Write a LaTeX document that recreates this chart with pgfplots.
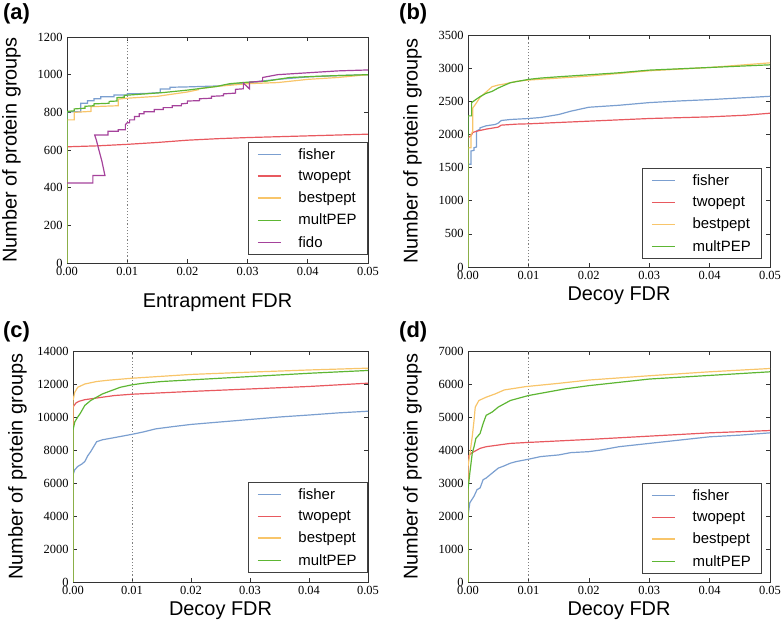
\documentclass[border=0pt]{standalone}
\usepackage{pgfplots}
\pgfplotsset{compat=1.18}
\usepackage{fontspec}
\setmainfont{Liberation Sans}
\newfontfamily\serifnum{Liberation Serif}
\newcommand\tickfont{\serifnum\fontsize{12.5}{14}\selectfont}
\newcommand\labfont{\fontsize{20}{24}\selectfont}
\definecolor{cfisher}{HTML}{7B9FD0}
\definecolor{ctwo}{HTML}{E8595F}
\definecolor{cbest}{HTML}{F8C56A}
\definecolor{cmult}{HTML}{5DB633}
\definecolor{cfido}{HTML}{A5429B}
\pgfplotsset{
  myax/.style={
    scale only axis,
    anchor=south west,
    xmin=0, xmax=0.05,
    xtick={0,0.01,0.02,0.03,0.04,0.05},
    scaled x ticks=false,
    scaled y ticks=false,
    tick align=inside,
    major tick length=4bp,
    axis line style={black!80, line width=0.8bp},
    every tick/.style={black!80, line width=0.6bp},
    xticklabel={\tickfont\pgfmathprintnumber[assume math mode=true, fixed, fixed zerofill, precision=2]{\tick}},
    yticklabel={\tickfont\pgfmathprintnumber[assume math mode=true, fixed, precision=0, 1000 sep={}]{\tick}},
    xticklabel style={yshift=-1bp},
    yticklabel style={xshift=-1bp},
    every axis y label/.style={at={(rel axis cs:0,0.5)}, xshift=-46bp, rotate=90, anchor=south, inner sep=0pt, font=\labfont},
    every axis plot/.append style={line width=1.2bp},
    legend cell align=left,
    legend image code/.code={\draw[line width=1.4bp, ##1] (0bp,0bp) -- (23bp,0bp);},
    legend style={anchor=south east, draw=black!75, line width=0.8bp,
      font=\fontsize{15}{18}\selectfont, inner xsep=9bp, inner ysep=4bp, row sep=6bp,
      /tikz/every odd column/.append style={column sep=15bp}},
  },
  xlab/.style={every axis x label/.style={at={(rel axis cs:0.5,0)}, yshift=-#1, anchor=base, inner sep=0pt, font=\labfont}},
}
\begin{document}
\begin{tikzpicture}
\useasboundingbox (0,0) rectangle (784bp,627bp);
% ---------------- (a)
\node[anchor=north west, inner sep=0pt, font=\bfseries\fontsize{22}{26}\selectfont] at (3bp,624bp) {(a)};
\begin{axis}[myax, xlab=45bp, at={(67bp,364bp)}, width=301bp, height=226bp,
  ymin=0, ymax=1200, ytick={0,200,400,600,800,1000,1200},
  xlabel={Entrapment FDR}, ylabel={Number of protein groups},
  legend style={at={(rel axis cs:1,0.035)}}]
\addplot[gray, dotted, line width=0.8bp, forget plot] coordinates {(0.01,0) (0.01,1200)};
\addplot[color=cfisher] coordinates {(0,0)(0,803)(0.0023,803)(0.0023,848)(0.0034,848)(0.0034,862)(0.0045,862)(0.0045,872)(0.0056,872)(0.0056,883)(0.0078,883)(0.0078,892)(0.0100,892)(0.0100,898)(0.0130,900)(0.0155,905)(0.0155,924)(0.0171,924)(0.0171,933)(0.0200,935)(0.0250,940)(0.0300,958)(0.0350,975)(0.0400,988)(0.0450,995)(0.0500,1000)};
\addlegendentry{fisher}
\addplot[color=ctwo] coordinates {(0,0)(0,617)(0.0050,622)(0.0100,630)(0.0150,640)(0.0200,652)(0.0250,660)(0.0300,666)(0.0400,675)(0.0500,684)};
\addlegendentry{twopept}
\addplot[color=cbest] coordinates {(0,0)(0,760)(0.0012,760)(0.0012,800)(0.0040,805)(0.0040,830)(0.0085,835)(0.0085,870)(0.0100,875)(0.0150,885)(0.0200,908)(0.0218,920)(0.0218,925)(0.0250,938)(0.0300,952)(0.0350,958)(0.0400,975)(0.0450,985)(0.0500,1000)};
\addlegendentry{bestpept}
\addplot[color=cmult] coordinates {(0,0)(0,805)(0.0012,808)(0.0012,818)(0.0030,822)(0.0030,832)(0.0045,835)(0.0045,845)(0.0070,848)(0.0070,858)(0.0083,860)(0.0083,878)(0.0095,880)(0.0095,890)(0.0130,898)(0.0160,905)(0.0200,918)(0.0250,938)(0.0270,952)(0.0300,960)(0.0330,965)(0.0370,985)(0.0420,992)(0.0500,1000)};
\addlegendentry{multPEP}
\addplot[color=cfido] coordinates {(0,425)(0.0043,425)(0.0043,465)(0.0063,465)(0.0058,540)(0.0053,600)(0.0049,650)(0.0046,680)(0.0068,680)(0.0068,700)(0.0085,700)(0.0085,708)(0.0097,708)(0.0097,735)(0.0100,745)(0.0104,745)(0.0104,760)(0.0112,760)(0.0112,778)(0.0120,778)(0.0120,792)(0.0128,792)(0.0128,803)(0.0145,803)(0.0145,815)(0.0160,815)(0.0160,825)(0.0175,825)(0.0175,835)(0.0190,835)(0.0190,845)(0.0200,848)(0.0200,860)(0.0220,862)(0.0220,872)(0.0240,875)(0.0240,885)(0.0260,888)(0.0260,898)(0.0280,902)(0.0280,922)(0.0293,925)(0.0293,955)(0.0303,925)(0.0303,960)(0.0325,965)(0.0325,985)(0.0350,1000)(0.0400,1010)(0.0450,1020)(0.0500,1025)};
\addlegendentry{fido}
\end{axis}
% ---------------- (b)
\node[anchor=north west, inner sep=0pt, font=\bfseries\fontsize{22}{26}\selectfont] at (399bp,624bp) {(b)};
\begin{axis}[myax, xlab=34bp, at={(468bp,360bp)}, width=302bp, height=232bp,
  ymin=0, ymax=3500, ytick={0,500,1000,1500,2000,2500,3000,3500},
  xlabel={Decoy FDR}, ylabel={Number of protein groups},
  legend style={at={(rel axis cs:0.974,0.034)}}]
\addplot[gray, dotted, line width=0.8bp, forget plot] coordinates {(0.01,0) (0.01,3500)};
\addplot[color=cfisher] coordinates {(0,0)(0,1550)(0.0005,1550)(0.0005,1750)(0.0010,1760)(0.0010,1800)(0.0014,1810)(0.0014,2050)(0.0020,2080)(0.0020,2100)(0.0030,2130)(0.0045,2150)(0.0050,2170)(0.0055,2210)(0.0070,2225)(0.0100,2240)(0.0120,2255)(0.0150,2300)(0.0170,2350)(0.0200,2410)(0.0250,2440)(0.0300,2480)(0.0350,2505)(0.0400,2525)(0.0450,2550)(0.0500,2575)};
\addlegendentry{fisher}
\addplot[color=ctwo] coordinates {(0,0)(0,1950)(0.0005,1980)(0.0008,2030)(0.0015,2050)(0.0030,2080)(0.0050,2110)(0.0055,2140)(0.0080,2155)(0.0100,2160)(0.0150,2180)(0.0200,2200)(0.0300,2240)(0.0400,2265)(0.0460,2290)(0.0500,2320)};
\addlegendentry{twopept}
\addplot[color=cbest] coordinates {(0,0)(0,1800)(0.0005,1800)(0.0005,2000)(0.0008,2050)(0.0008,2400)(0.0012,2450)(0.0020,2560)(0.0030,2640)(0.0040,2720)(0.0050,2745)(0.0060,2760)(0.0080,2800)(0.0100,2820)(0.0150,2850)(0.0200,2880)(0.0300,2960)(0.0400,3010)(0.0500,3080)};
\addlegendentry{bestpept}
\addplot[color=cmult] coordinates {(0,0)(0,2280)(0.0006,2280)(0.0006,2480)(0.0012,2520)(0.0020,2570)(0.0030,2620)(0.0040,2650)(0.0050,2700)(0.0060,2740)(0.0070,2780)(0.0100,2830)(0.0120,2850)(0.0150,2870)(0.0200,2900)(0.0250,2930)(0.0300,2970)(0.0350,2990)(0.0400,3010)(0.0450,3030)(0.0500,3050)};
\addlegendentry{multPEP}
\end{axis}
% ---------------- (c)
\node[anchor=north west, inner sep=0pt, font=\bfseries\fontsize{22}{26}\selectfont] at (3bp,306bp) {(c)};
\begin{axis}[myax, xlab=34bp, at={(73bp,45bp)}, width=295bp, height=231bp,
  ymin=0, ymax=14000, ytick={0,2000,4000,6000,8000,10000,12000,14000},
  xlabel={Decoy FDR}, ylabel={Number of protein groups},
  legend style={at={(rel axis cs:1,0.039)}}]
\addplot[gray, dotted, line width=0.8bp, forget plot] coordinates {(0.01,0) (0.01,14000)};
\addplot[color=cfisher] coordinates {(0,0)(0,6500)(0.0003,6800)(0.0008,7000)(0.0015,7150)(0.0020,7300)(0.0025,7650)(0.0030,7900)(0.0035,8200)(0.0040,8500)(0.0050,8620)(0.0070,8750)(0.0100,8950)(0.0120,9100)(0.0140,9280)(0.0170,9420)(0.0200,9550)(0.0250,9700)(0.0300,9850)(0.0350,10000)(0.0400,10120)(0.0450,10250)(0.0500,10350)};
\addlegendentry{fisher}
\addplot[color=ctwo] coordinates {(0,0)(0,10600)(0.0005,10850)(0.0010,10950)(0.0020,11050)(0.0030,11100)(0.0050,11200)(0.0070,11300)(0.0100,11380)(0.0200,11550)(0.0300,11700)(0.0400,11850)(0.0500,12050)};
\addlegendentry{twopept}
\addplot[color=cbest] coordinates {(0,0)(0,11000)(0.0003,11500)(0.0008,11800)(0.0020,12000)(0.0040,12150)(0.0060,12230)(0.0100,12350)(0.0200,12580)(0.0300,12720)(0.0400,12850)(0.0500,12960)};
\addlegendentry{bestpept}
\addplot[color=cmult] coordinates {(0,0)(0,9200)(0.0003,9700)(0.0008,10000)(0.0012,10200)(0.0020,10700)(0.0030,11000)(0.0040,11200)(0.0050,11400)(0.0065,11600)(0.0080,11800)(0.0100,11950)(0.0120,12050)(0.0150,12150)(0.0200,12250)(0.0300,12450)(0.0400,12650)(0.0500,12820)};
\addlegendentry{multPEP}
\end{axis}
% ---------------- (d)
\node[anchor=north west, inner sep=0pt, font=\bfseries\fontsize{22}{26}\selectfont] at (399bp,306bp) {(d)};
\begin{axis}[myax, xlab=34bp, at={(468bp,45bp)}, width=302bp, height=231bp,
  ymin=0, ymax=7000, ytick={0,1000,2000,3000,4000,5000,6000,7000},
  xlabel={Decoy FDR}, ylabel={Number of protein groups},
  legend style={at={(rel axis cs:0.974,0.035)}}]
\addplot[gray, dotted, line width=0.8bp, forget plot] coordinates {(0.01,0) (0.01,7000)};
\addplot[color=cfisher] coordinates {(0,0)(0,2000)(0.0003,2400)(0.0010,2600)(0.0015,2800)(0.0020,2850)(0.0025,3100)(0.0030,3150)(0.0040,3300)(0.0050,3450)(0.0060,3520)(0.0070,3600)(0.0080,3650)(0.0100,3720)(0.0120,3800)(0.0150,3850)(0.0170,3920)(0.0200,3950)(0.0220,4000)(0.0250,4100)(0.0300,4200)(0.0350,4300)(0.0400,4400)(0.0450,4450)(0.0500,4520)};
\addlegendentry{fisher}
\addplot[color=ctwo] coordinates {(0,0)(0,3800)(0.0005,3900)(0.0010,3950)(0.0020,4050)(0.0030,4100)(0.0050,4150)(0.0070,4200)(0.0100,4230)(0.0200,4320)(0.0300,4420)(0.0400,4520)(0.0500,4590)};
\addlegendentry{twopept}
\addplot[color=cbest] coordinates {(0,0)(0,3500)(0.0004,4000)(0.0007,4400)(0.0010,4900)(0.0012,5300)(0.0018,5500)(0.0030,5600)(0.0045,5700)(0.0060,5820)(0.0095,5920)(0.0150,6020)(0.0200,6120)(0.0300,6250)(0.0400,6370)(0.0500,6470)};
\addlegendentry{bestpept}
\addplot[color=cmult] coordinates {(0,0)(0,2800)(0.0003,3300)(0.0007,3900)(0.0010,4100)(0.0013,4350)(0.0020,4500)(0.0025,4800)(0.0030,5050)(0.0040,5150)(0.0050,5300)(0.0060,5400)(0.0070,5500)(0.0090,5600)(0.0100,5650)(0.0130,5750)(0.0160,5850)(0.0200,5950)(0.0250,6050)(0.0300,6150)(0.0400,6260)(0.0500,6370)};
\addlegendentry{multPEP}
\end{axis}
\end{tikzpicture}
\end{document}
